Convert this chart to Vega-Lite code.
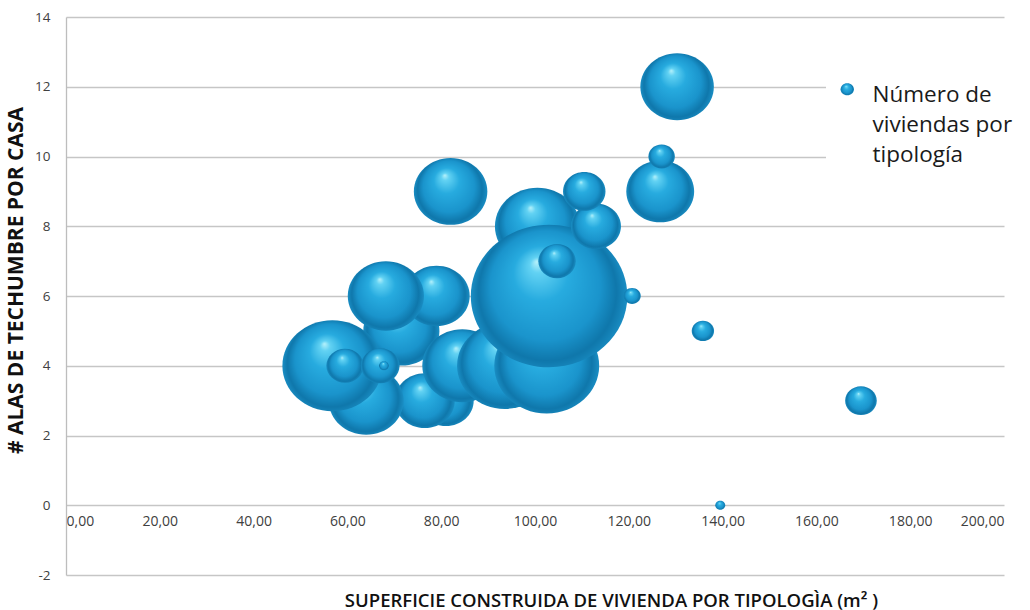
{
  "$schema": "https://vega.github.io/schema/vega-lite/v6.json",
  "width": 938,
  "height": 558,
  "autosize": {"type": "none"},
  "padding": {"left": 66, "top": 17, "right": 26, "bottom": 35},
  "background": "white",
  "config": {
    "view": {"stroke": null},
    "font": "Open Sans",
    "style": {"guide-label": {"lineHeight": 30, "dy": -5}}
  },
  "data": {
    "values": [
      {"area": 71.5, "alas": 5, "viviendas": 58},
      {"area": 81, "alas": 3, "viviendas": 31},
      {"area": 76.5, "alas": 3, "viviendas": 36},
      {"area": 79, "alas": 6, "viviendas": 44},
      {"area": 68.2, "alas": 6, "viviendas": 58},
      {"area": 64, "alas": 3, "viviendas": 56},
      {"area": 56.8, "alas": 4, "viviendas": 100},
      {"area": 59.5, "alas": 4, "viviendas": 14},
      {"area": 67, "alas": 4, "viviendas": 15},
      {"area": 67.8, "alas": 4, "viviendas": 1},
      {"area": 84.5, "alas": 4, "viviendas": 64},
      {"area": 93.5, "alas": 4, "viviendas": 90},
      {"area": 102.5, "alas": 4, "viviendas": 110},
      {"area": 100.5, "alas": 8, "viviendas": 72},
      {"area": 103, "alas": 6, "viviendas": 245},
      {"area": 104.7, "alas": 7, "viviendas": 14},
      {"area": 120.7, "alas": 6, "viviendas": 3},
      {"area": 82, "alas": 9, "viviendas": 54},
      {"area": 113, "alas": 8, "viviendas": 25},
      {"area": 110.5, "alas": 9, "viviendas": 18},
      {"area": 126.7, "alas": 9, "viviendas": 46},
      {"area": 127, "alas": 10, "viviendas": 7},
      {"area": 130.3, "alas": 12, "viviendas": 54},
      {"area": 135.8, "alas": 5, "viviendas": 5},
      {"area": 169.5, "alas": 3, "viviendas": 10},
      {"area": 139.5, "alas": 0, "viviendas": 1}
    ]
  },
  "mark": {
    "type": "point",
    "filled": true,
    "opacity": 1,
    "strokeWidth": 0,
    "color": {
      "gradient": "radial",
      "x1": 0.42, "y1": 0.28, "r1": 0,
      "x2": 0.5, "y2": 0.5, "r2": 0.5,
      "stops": [
        {"offset": 0, "color": "#b8f2fb"},
        {"offset": 0.1, "color": "#62d2f3"},
        {"offset": 0.35, "color": "#27abdf"},
        {"offset": 0.7, "color": "#1a94cc"},
        {"offset": 0.88, "color": "#0f77ab"},
        {"offset": 1, "color": "#1a8ec4"}
      ]
    }
  },
  "encoding": {
    "x": {
      "field": "area",
      "type": "quantitative",
      "scale": {"domain": [0, 200], "nice": false, "zero": false},
      "axis": {
        "values": [0, 20, 40, 60, 80, 100, 120, 140, 160, 180, 200],
        "labelExpr": "replace(format(datum.value, '.2f'), '.', ',')",
        "offset": -70,
        "domain": false,
        "ticks": false,
        "grid": false,
        "labelPadding": 14,
        "labelFontSize": 14,
        "labelColor": "#404040",
        "title": "SUPERFICIE CONSTRUIDA DE VIVIENDA POR TIPOLOGÌA (m² )",
        "titleFontSize": 18.5,
        "titleFontWeight": 600,
        "titleColor": "#111111",
        "titleX": 545,
        "titleY": 95,
        "titleAlign": "center",
        "titleBaseline": "middle"
      }
    },
    "y": {
      "field": "alas",
      "type": "quantitative",
      "scale": {"domain": [-2, 14], "nice": false, "zero": false},
      "axis": {
        "values": [-2, 0, 2, 4, 6, 8, 10, 12, 14],
        "labelExpr": "'' + datum.value",
        "domain": true,
        "domainColor": "#bdbdbd",
        "domainWidth": 1.3,
        "ticks": false,
        "grid": true,
        "gridColor": "#c6c6c6",
        "gridWidth": 1.3,
        "labelPadding": 16,
        "labelOffset": 5,
        "labelFontSize": 13.5,
        "labelColor": "#404040",
        "title": "# ALAS DE TECHUMBRE POR CASA",
        "titleFontSize": 21,
        "titleFontWeight": "bold",
        "titleColor": "#111111",
        "titleX": -50,
        "titleY": 263,
        "titleAlign": "center",
        "titleBaseline": "middle",
        "titleAngle": -90
      }
    },
    "size": {
      "field": "viviendas",
      "type": "quantitative",
      "scale": {"type": "linear", "domain": [0, 250], "range": [0, 25000]},
      "legend": null
    },
    "shape": {
      "datum": "Número de viviendas por tipología",
      "scale": {"range": ["M-1,0A1,0.91,0,1,1,1,0A1,0.91,0,1,1,-1,0Z"]},
      "legend": {
        "orient": "none",
        "legendX": 760,
        "legendY": 51,
        "padding": 10,
        "fillColor": "white",
        "title": null,
        "symbolSize": 180,
        "symbolStrokeWidth": 0,
        "labelFontSize": 22.5,
        "labelColor": "#1a1a1a",
        "labelLimit": 0,
        "labelOffset": 14,
        "labelBaseline": "top",
        "labelExpr": "['Número de', 'viviendas por', 'tipología']"
      }
    }
  }
}
